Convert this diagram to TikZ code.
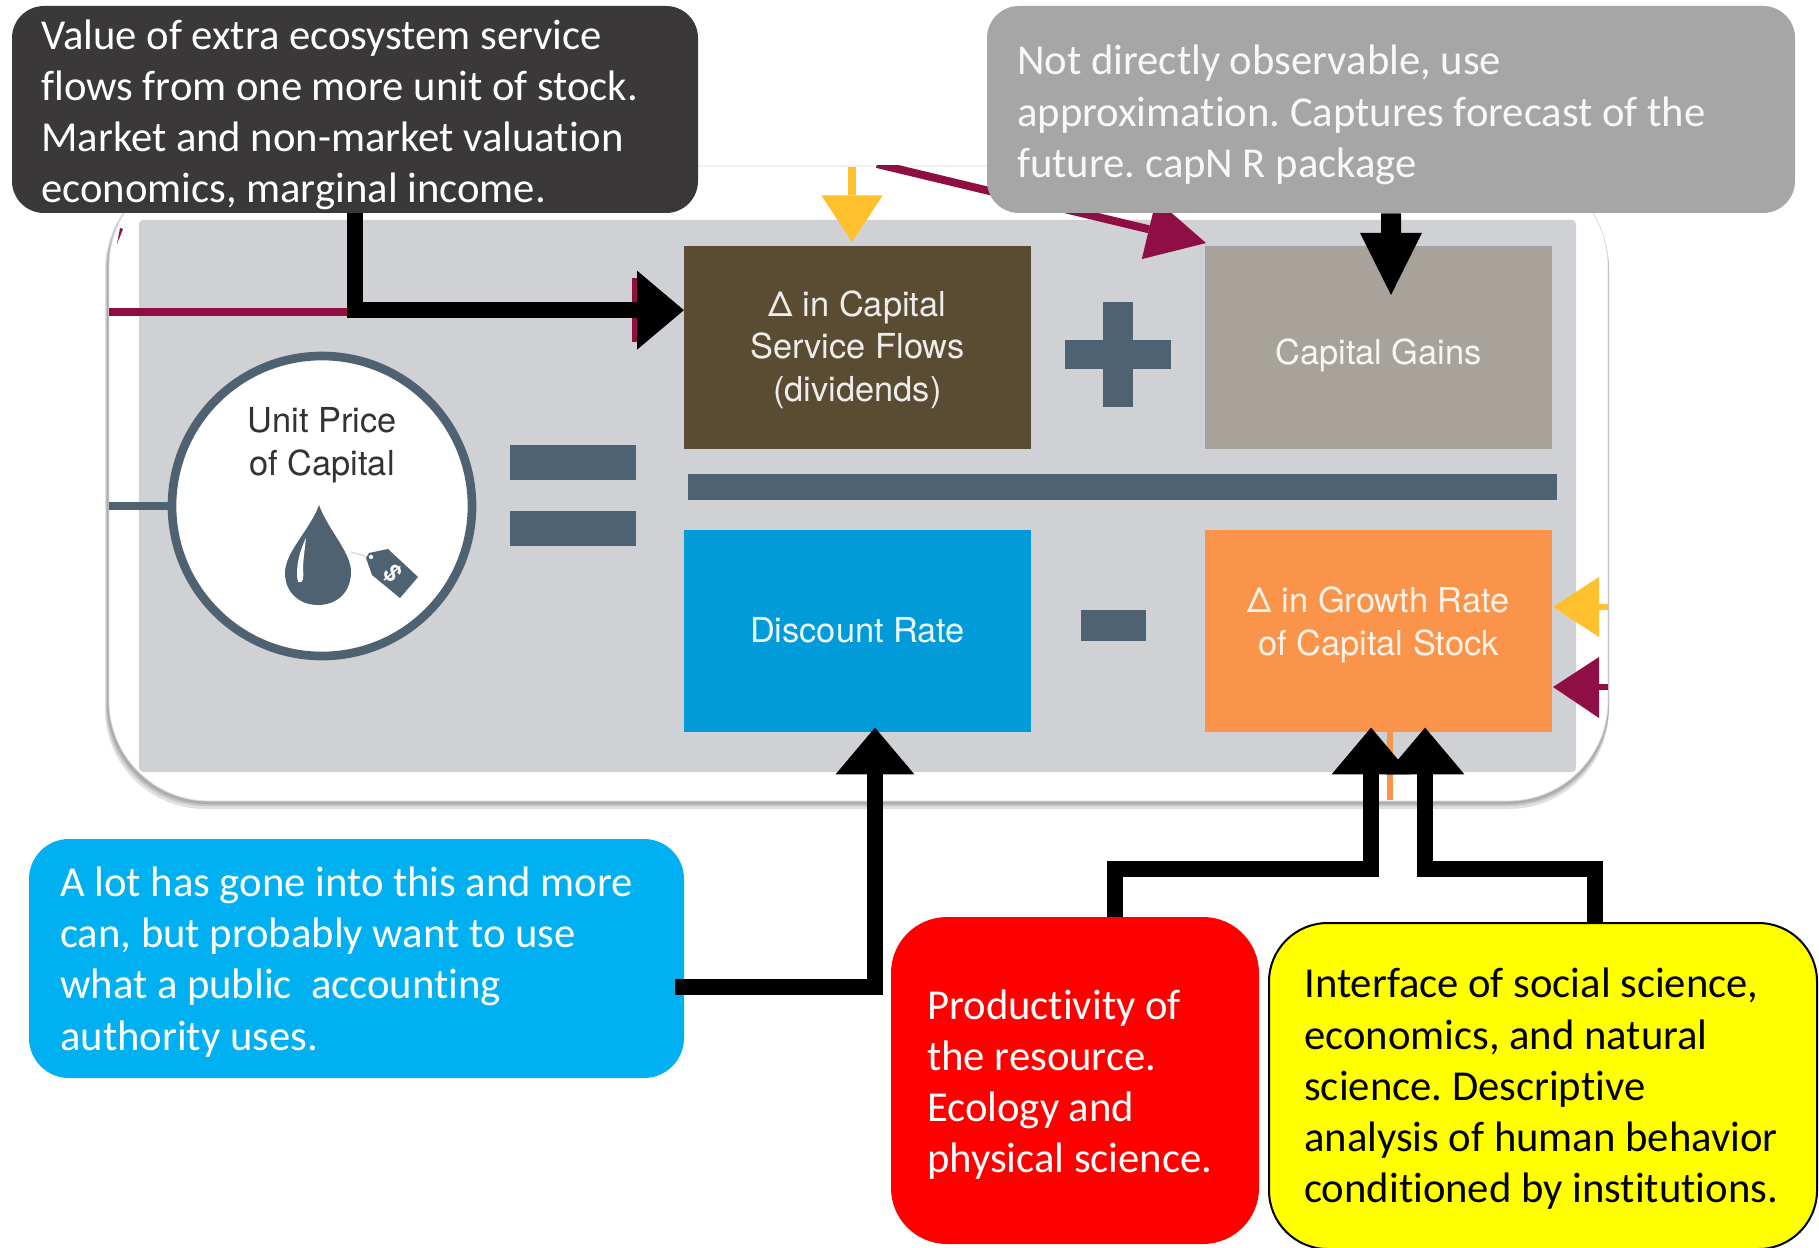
\documentclass[tikz,border=0pt]{standalone}
\usepackage{fontspec}
\setmainfont[Ligatures=NoCommon]{Carlito}
\newfontfamily\imgfont{TeX Gyre Heros}
\usetikzlibrary{arrows.meta}
\definecolor{panelgray}{RGB}{208,209,213}
\definecolor{slate}{RGB}{79,98,114}
\definecolor{maroon}{RGB}{143,15,69}
\definecolor{amber}{RGB}{255,192,45}
\definecolor{boxbrown}{RGB}{90,76,50}
\definecolor{boxstone}{RGB}{168,163,154}
\definecolor{boxblue}{RGB}{0,155,216}
\definecolor{boxorange}{RGB}{249,148,74}
\definecolor{calldark}{RGB}{58,56,56}
\definecolor{callgray}{RGB}{166,166,166}
\definecolor{callblue}{RGB}{0,176,240}
\definecolor{callred}{RGB}{255,0,0}
\definecolor{callyellow}{RGB}{255,255,0}
\newcommand{\callfont}{\fontsize{32}{38.4}\selectfont\frenchspacing\setlength{\spaceskip}{7.2pt}}
\tikzset{
  imgbox/.style={rectangle,minimum width=260pt,minimum height=152pt,inner sep=0pt},
  imgtext/.style={align=center,inner sep=0pt,font=\imgfont\fontsize{25.8}{32}\selectfont},
  callbox/.style={rectangle,inner sep=0pt},
  calltext/.style={anchor=west,align=left,inner sep=0pt,font=\callfont},
  slatebar/.style={fill=slate,draw=none},
  softshadow/.style={fill=black,opacity=0.12,rounded corners=75pt},
  callarrow/.style={draw=black,line width=12pt,-{Triangle[length=35pt,width=59pt,line width=0pt]}},
  thinhead/.style={line width=6.5pt,-{Triangle[length=35pt,width=46pt,line width=0pt]}},
}
\begin{document}
\begin{tikzpicture}[x=0.75pt,y=0.75pt,yscale=-1,xscale=1]
\useasboundingbox (0,0) rectangle (1819,1248);

%Shape: Rounded Rect
\fill [softshadow] (105,170) rectangle (1609,809);
\fill [softshadow] (106,170) rectangle (1609,806);
\fill [softshadow] (107,170) rectangle (1609,804);
\draw [draw=black!15,line width=0.6pt,fill=white,rounded corners=75pt] (109,166) rectangle (1608,801);
%Shape: Rectangle
\fill [panelgray,rounded corners=3pt] (139,220) rectangle (1576,772);
%Shape: Polygon
\fill [maroon] (120,228) -- (123,229) -- (117,244) -- cycle;

%Straight Lines
\draw [maroon,line width=6.5pt] (109,312) -- (350,312);
\fill [maroon] (632,278) rectangle (637,342);
\draw [slate,line width=5.5pt] (109,506) -- (170,506);
\draw [amber,thinhead] (852,167) -- (852,242);
\begin{scope}
\clip (109,166) rectangle (1608,801);
\draw [maroon,line width=6pt,-{Triangle[length=44pt,width=46pt,line width=0pt]}] (877,164) -- (1206,243);
\end{scope}
\draw [amber,line width=5pt] (1590,607) -- (1608,607);
\draw [maroon,line width=5pt] (1590,687) -- (1608,687);
\fill [amber] (1553,607) -- (1599,577) -- (1599,637) -- cycle;
\fill [maroon] (1553,687) -- (1599,657) -- (1599,718) -- cycle;
\draw [boxorange,line width=4.5pt] (1390,730) -- (1390,800);

%Shape: Rectangle
\node (flowbox) at (857.5,347.5) [imgbox,fill=boxbrown] {};
\node (gainbox) at (1378.5,347.5) [imgbox,fill=boxstone] {};
\node (discbox) at (857.5,631) [imgbox,fill=boxblue] {};
\node (growthbox) at (1378.5,631) [imgbox,fill=boxorange] {};
% Text Node
\node (flowtext) at (857.5,349.5) [imgtext,text=white!90!boxbrown] {Δ in Capital\\Service Flows\\(dividends)};
% Text Node
\node (gaintext) at (1378.5,355) [imgtext,text=white!90!boxstone] {Capital Gains};
% Text Node
\node (disctext) at (857.5,630) [imgtext,text=white!92!boxblue] {Discount Rate};
% Text Node
\node (growthtext) at (1378.5,625) [imgtext,text=white!88!boxorange] {Δ in Growth Rate\\of Capital Stock};

%Shape: Rectangle
\fill [slatebar] (510,445) rectangle (636,480);
\fill [slatebar] (510,511) rectangle (636,546);
\fill [slatebar] (688,474) rectangle (1557,500);
\fill [slatebar] (1065,340) rectangle (1171,369);
\fill [slatebar] (1103,302) rectangle (1133,407);
\fill [slatebar] (1081,610) rectangle (1146,641);

%Shape: Circle
\node (pricering) at (322,506) [circle,draw=slate,line width=6.5pt,fill=white,minimum size=225pt,inner sep=0pt] {};
% Text Node
\node (pricetext) at (322,445) [imgtext,text=black!80] {Unit Price\\of Capital};
%Curve Lines
\fill [slate] (319,505) .. controls (310,530) and (285,552) .. (285,573) .. controls (285,593) and (300,605) .. (318,605) .. controls (337,605) and (351,592) .. (351,572) .. controls (351,552) and (328,530) .. (319,505) -- cycle;
\fill [white] (306,538) .. controls (299,552) and (295,570) .. (298,582) .. controls (303,584) and (304,578) .. (303,570) .. controls (303,560) and (305,548) .. (306,538) -- cycle;
\draw [black!15,line width=1pt] (351,552) -- (368,557);
\fill [slate] (366,558) -- (369,553) -- (388,549) -- (418,577) -- (400,598) -- (372,575) -- cycle;
\fill [white] (371,557) circle (1.6pt);
% Text Node
\node (tagdollar) at (393,574) [rotate=-50,text=white,inner sep=0pt,font=\imgfont\bfseries\fontsize{18}{18}\selectfont] {\$};

%Shape: Rounded Rect
\node (valuecall) at (355,109.5) [callbox,fill=calldark,rounded corners=24pt,minimum width=514.5pt,minimum height=155.25pt] {};
% Text Node
\node (valuetext) at (41,115) [calltext,text=white] {Value of extra ecosystem service\\flows from one more unit of stock.\\Market and non-market valuation\\economics, marginal income.};
%Shape: Rounded Rect
\node (forecastcall) at (1391,109.5) [callbox,fill=callgray,rounded corners=24pt,minimum width=606pt,minimum height=155.25pt] {};
% Text Node
\node (forecasttext) at (1017,115) [calltext,text=white!92!callgray] {Not directly observable, use\\approximation. Captures forecast of the\\future. capN R package};
%Shape: Rounded Rect
\node (publiccall) at (356.5,958.5) [callbox,fill=callblue,rounded corners=30pt,minimum width=491.25pt,minimum height=179.25pt] {};
% Text Node
\node (publictext) at (60,962) [calltext,text=white] {A lot has gone into this and more\\can, but probably want to use\\what a public \hspace{7.2pt}accounting\\authority uses.};
%Shape: Rounded Rect
\node (resourcecall) at (1075,1080.5) [callbox,fill=callred,rounded corners=42pt,minimum width=276pt,minimum height=245.25pt] {};
% Text Node
\node (resourcetext) at (927,1084.5) [calltext,text=white] {Productivity of\\the resource.\\Ecology and\\physical science.};
%Shape: Rounded Rect
\node (socialcall) at (1543,1086) [callbox,fill=callyellow,draw=black,line width=1.5pt,rounded corners=44pt,minimum width=411pt,minimum height=244.5pt] {};
% Text Node
\node (socialtext) at (1304,1089) [calltext,text=black] {Interface of social science,\\economics, and natural\\science. Descriptive\\analysis of human behavior\\conditioned by institutions.};

%Straight Lines
\draw [callarrow] (valuecall.south) |- ([yshift=-28pt]flowbox.west);
\draw [callarrow,line width=15pt,-{Triangle[length=46.5pt,width=46.5pt,line width=0pt]}] (forecastcall.south) -- ([xshift=9.4pt,yshift=36.75pt]gainbox.north);
\draw [callarrow] ([xshift=-6.75pt,yshift=21.5pt]publiccall.east) -| ([xshift=13.1pt,yshift=-3.75pt]discbox.south);
\draw [callarrow] ([xshift=30pt]resourcecall.north) -- ++(0,-48) -| ([xshift=-5.6pt,yshift=-3.75pt]growthbox.south);
\draw [callarrow] ([xshift=39pt]socialcall.north) -- ++(0,-53) -| ([xshift=34.9pt,yshift=-3.75pt]growthbox.south);
\end{tikzpicture}
\end{document}
